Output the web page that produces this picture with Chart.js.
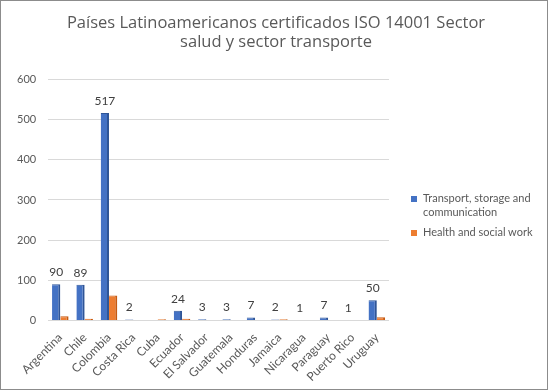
<!DOCTYPE html>
<html>
<head>
<meta charset="utf-8">
<script src="https://cdn.jsdelivr.net/npm/chart.js@4.4.1/dist/chart.umd.min.js"></script>
<style>
  body { margin: 0; background: #fff; }
  #wrap { position: relative; width: 548px; height: 390px; box-sizing: border-box; border: 1px solid #8c8c8c; }
  #legend { position: absolute; left: 410px; top: 190px; font-family: Lato, "Open Sans", sans-serif; font-size: 11px; color: #595959; }
  #legend .item { display: flex; align-items: flex-start; margin-bottom: 6px; line-height: 14px; }
  #legend .box { width: 6px; height: 6px; margin: 5px 6px 0 0; flex: none; }
</style>
</head>
<body>
<div id="wrap">
  <canvas id="chart" width="546" height="388"></canvas>
  <div id="legend"></div>
</div>
<script>
const countries = ["Argentina", "Chile", "Colombia", "Costa Rica", "Cuba", "Ecuador", "El Salvador",
  "Guatemala", "Honduras", "Jamaica", "Nicaragua", "Paraguay", "Puerto Rico", "Uruguay"];
const transportValues = [90, 89, 517, 2, 0, 24, 3, 3, 7, 2, 1, 7, 1, 50];
const healthValues = [10, 4, 62, 0, 3, 4, 0, 0, 0, 3, 0, 0, 0, 8];
const seriesNames = ["Transport, storage and communication", "Health and social work"];
const yTicks = [0, 100, 200, 300, 400, 500, 600];

const blue = "#4472C4";
const orange = "#ED7D31";
const fontFamily = "Lato, 'Open Sans', sans-serif";

// etiquetas de valor sobre las barras azules
const valueLabels = {
  id: "valueLabels",
  afterDatasetsDraw(chart) {
    const ctx = chart.ctx;
    const meta = chart.getDatasetMeta(0);
    ctx.save();
    ctx.font = "12px " + fontFamily;
    ctx.fillStyle = "#404040";
    ctx.textAlign = "center";
    ctx.textBaseline = "bottom";
    meta.data.forEach((bar, i) => {
      const v = transportValues[i];
      if (!v) return;
      ctx.fillText(String(v), bar.x, bar.y - 6);
    });
    ctx.restore();
  }
};

const chart = new Chart(document.getElementById("chart"), {
  type: "bar",
  data: {
    labels: countries,
    datasets: [
      { label: seriesNames[0], data: transportValues, backgroundColor: blue, borderColor: "#2f5597", borderWidth: { right: 2, top: 1 } },
      { label: seriesNames[1], data: healthValues, backgroundColor: orange, borderColor: "#c55a11", borderWidth: { right: 2, top: 1 } }
    ]
  },
  options: {
    responsive: false,
    animation: false,
    layout: { padding: { left: 4, right: 0, top: 6, bottom: 3 } },
    datasets: { bar: { categoryPercentage: 0.68, barPercentage: 1 } },
    plugins: {
      legend: { display: false },
      tooltip: { enabled: false },
      title: {
        display: true,
        text: ["Países Latinoamericanos certificados ISO 14001 Sector", "salud y sector transporte"],
        color: "#595959",
        font: { family: "'Open Sans', Lato, sans-serif", size: 16.5, weight: "normal" },
        lineHeight: 1.5,
        padding: { top: 6, bottom: 27 },
        align: "center"
      }
    },
    scales: {
      x: {
        grid: { display: false },
        border: { display: false },
        ticks: {
          color: "#595959",
          font: { family: fontFamily, size: 12 },
          maxRotation: 45, minRotation: 45,
          autoSkip: false,
          padding: 2
        }
      },
      y: {
        min: 0, max: 600,
        afterBuildTicks: axis => { axis.ticks = yTicks.map(v => ({ value: v })); },
        grid: { color: "#d9d9d9", drawTicks: false },
        border: { display: false },
        ticks: {
          color: "#595959",
          font: { family: fontFamily, size: 11 },
          padding: 12
        }
      },
      // espacio reservado para la leyenda a la derecha
      legendSpace: {
        type: "linear",
        position: "right",
        grid: { display: false },
        border: { display: false },
        ticks: { display: false },
        afterFit: axis => { axis.width = 158; }
      }
    }
  },
  plugins: [valueLabels]
});

const legend = document.getElementById("legend");
[blue, orange].forEach((c, i) => {
  const item = document.createElement("div");
  item.className = "item";
  item.innerHTML = `<span class="box" style="background:${c}"></span><span style="width:124px">${seriesNames[i]}</span>`;
  legend.appendChild(item);
});
</script>
</body>
</html>
